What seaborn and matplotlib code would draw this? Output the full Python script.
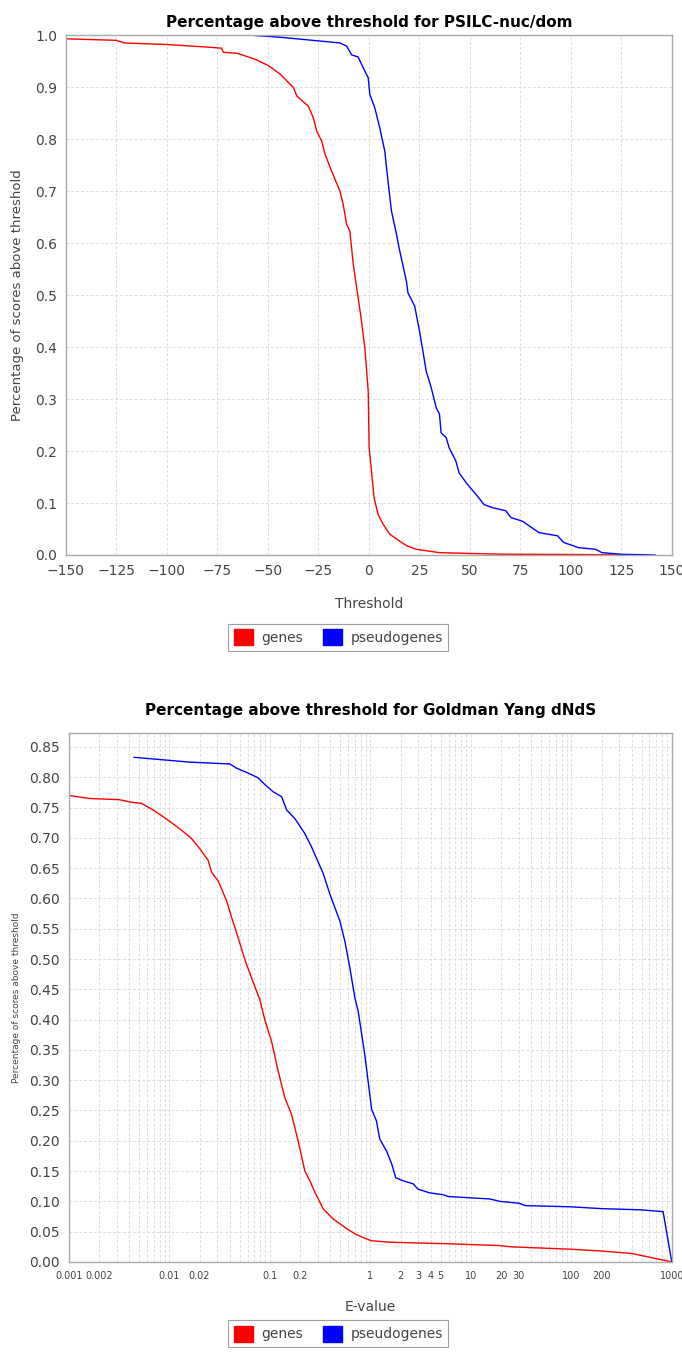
import numpy as np
import pandas as pd
import matplotlib
matplotlib.use("Agg")
from matplotlib import pyplot as plt
from matplotlib.patches import Patch
from matplotlib.ticker import FixedLocator, FixedFormatter
import seaborn as sns

# PSILC-nuc/dom (top panel)
psilc_genes_x = [-150, -125, -121, -100, -80, -73, -72, -65, -56, -50, -43.9, -37.3, -35.7,
                 -29.9, -27.5, -25.8, -23.3, -21.7, -18.4, -14.3, -12.7, -11, -9.4, -7.7, -5.3,
                 -4.1, -2, -0.3, 0.15, 1.3, 2.6, 4.6, 7.1, 10.4, 13.7, 18.6, 23.5, 35, 50, 66,
                 100, 130]
psilc_genes_y = [0.993, 0.99, 0.985, 0.982, 0.977, 0.975, 0.967, 0.965, 0.953, 0.942, 0.925,
                 0.899, 0.883, 0.863, 0.841, 0.815, 0.796, 0.771, 0.738, 0.70, 0.674, 0.636,
                 0.623, 0.559, 0.495, 0.463, 0.399, 0.315, 0.206, 0.162, 0.110, 0.078, 0.059,
                 0.040, 0.031, 0.018, 0.011, 0.0045, 0.003, 0.0015, 0.001, 0.0]

psilc_pseudo_x = [-59, -43.9, -14.3, -11, -8.5, -5.3, -2, -0.3, 0.5, 2.96, 5.4, 7.9, 9.5, 11.2,
                  13.7, 15.3, 18.6, 19.4, 22.7, 25.1, 26.8, 28.4, 30.9, 33.4, 35, 35.8, 38.3,
                  39.8, 43.1, 44.7, 48.8, 53, 57.1, 61.3, 67.9, 70.4, 76.1, 84.3, 93.4, 96.6,
                  104, 112.3, 115.5, 125.4, 141.9]
psilc_pseudo_y = [1.0, 0.996, 0.985, 0.979, 0.962, 0.958, 0.931, 0.918, 0.886, 0.86, 0.822,
                  0.777, 0.719, 0.662, 0.617, 0.585, 0.527, 0.504, 0.479, 0.431, 0.392, 0.354,
                  0.322, 0.283, 0.271, 0.235, 0.226, 0.206, 0.181, 0.158, 0.136, 0.117, 0.097,
                  0.091, 0.085, 0.072, 0.065, 0.043, 0.037, 0.024, 0.014, 0.011, 0.0045,
                  0.0013, 0.0]

# Goldman Yang dNdS (bottom panel)
gy_genes_x = [0.001, 0.0016, 0.0032, 0.00409, 0.00528, 0.0069, 0.00938, 0.0127, 0.0166,
              0.0201, 0.0243, 0.0263, 0.0306, 0.0371, 0.0416, 0.0484, 0.0564, 0.0657, 0.0795,
              0.089, 0.104, 0.121, 0.141, 0.164, 0.191, 0.223, 0.25, 0.281, 0.34, 0.427, 0.58,
              0.729, 0.916, 1.03, 1.56, 6, 19.5, 25, 50, 100, 200, 400, 1000]
gy_genes_y = [0.77, 0.765, 0.763, 0.759, 0.757, 0.746, 0.731, 0.715, 0.699, 0.682, 0.663,
              0.643, 0.629, 0.596, 0.569, 0.535, 0.499, 0.469, 0.433, 0.40, 0.364, 0.315,
              0.271, 0.244, 0.20, 0.15, 0.134, 0.115, 0.0875, 0.071, 0.055, 0.045, 0.038,
              0.035, 0.0326, 0.03, 0.027, 0.025, 0.023, 0.021, 0.018, 0.014, 0.0]

gy_pseudo_x = [0.00443, 0.016, 0.040, 0.0466, 0.0608, 0.0765, 0.0892, 0.108, 0.131, 0.147,
               0.177, 0.223, 0.26, 0.292, 0.34, 0.396, 0.497, 0.557, 0.625, 0.702, 0.757,
               0.881, 0.951, 1.03, 1.15, 1.24, 1.45, 1.63, 1.79, 2.12, 2.67, 2.99, 3.91, 5.3,
               5.95, 15.5, 19.5, 30, 35, 100, 200, 500, 820, 1000]
gy_pseudo_y = [0.833, 0.825, 0.822, 0.815, 0.807, 0.799, 0.788, 0.776, 0.768, 0.746, 0.732,
               0.707, 0.685, 0.666, 0.641, 0.607, 0.563, 0.53, 0.486, 0.436, 0.414, 0.342,
               0.298, 0.252, 0.233, 0.203, 0.183, 0.162, 0.139, 0.134, 0.129, 0.120, 0.114,
               0.111, 0.108, 0.104, 0.100, 0.097, 0.093, 0.091, 0.088, 0.086, 0.083, 0.0]

ev_ticks = [0.001, 0.002, 0.01, 0.02, 0.1, 0.2, 1, 2, 3, 4, 5, 10, 20, 30, 100, 200, 1000]
ev_labels = ["0.001", "0.002", "0.01", "0.02", "0.1", "0.2", "1", "2", "3", "4", "5",
             "10", "20", "30", "100", "200", "1000"]

sns.set_theme(style="white")
plt.rcParams['font.family'] = ['DejaVu Sans']

grey = "#444444"
spine_c = "#aaaaaa"
grid_c = "#dddddd"
palette = {"genes": "#ff0000", "pseudogenes": "#0000ff"}

fig = plt.figure(figsize=(6.82, 13.52), dpi=100)
ax1 = fig.add_axes([0.0968, 0.5895, 0.888, 0.3845])
ax2 = fig.add_axes([0.101, 0.0666, 0.884, 0.3912])


def style_axes(ax):
    for s in ax.spines.values():
        s.set_color(spine_c)
        s.set_linewidth(1)
    ax.tick_params(axis="both", which="both", colors=grey, direction="out",
                   length=3, width=0.8, color=spine_c)
    ax.set_facecolor("white")


def make_legend(y):
    handles = [Patch(facecolor="#ff0000", edgecolor="#ff0000", label="genes"),
               Patch(facecolor="#0000ff", edgecolor="#0000ff", label="pseudogenes")]
    leg = fig.legend(handles=handles, loc="center", bbox_to_anchor=(0.496, y), ncol=2,
                     frameon=True, fancybox=False, edgecolor="#888888", fontsize=10,
                     handlelength=1.4, handleheight=1.4, handletextpad=0.6,
                     columnspacing=1.4, borderpad=0.4)
    leg.get_frame().set_linewidth(0.8)
    for t in leg.get_texts():
        t.set_color(grey)


# top panel
top = pd.concat([
    pd.DataFrame({"x": psilc_genes_x, "y": psilc_genes_y, "set": "genes"}),
    pd.DataFrame({"x": psilc_pseudo_x, "y": psilc_pseudo_y, "set": "pseudogenes"}),
])
sns.lineplot(data=top, x="x", y="y", hue="set", palette=palette,
             sort=False, estimator=None, linewidth=1, legend=False, ax=ax1)
ax1.set_xlim(-150, 150)
ax1.set_ylim(0, 1.0)
ax1.set_xticks(np.arange(-150, 151, 25))
ax1.set_xticklabels([str(v).replace("-", "\u2212") for v in range(-150, 151, 25)])
ax1.set_yticks(np.arange(0, 1.01, 0.1))
ax1.set_yticklabels([f"{v:.1f}" for v in np.arange(0, 1.01, 0.1)])
ax1.grid(True, color=grid_c, linestyle=(0, (3, 2)), linewidth=0.7)
style_axes(ax1)
ax1.tick_params(labelsize=10)
ax1.set_title("Percentage above threshold for PSILC-nuc/dom", fontsize=11, fontweight="bold",
              color="black", pad=6)
ax1.set_xlabel("Threshold", fontsize=10, color=grey, labelpad=14)
ax1.set_ylabel("Percentage of scores above threshold", fontsize=9.5, color=grey, labelpad=8)
make_legend(0.5285)

# bottom panel
bot = pd.concat([
    pd.DataFrame({"x": gy_genes_x, "y": gy_genes_y, "set": "genes"}),
    pd.DataFrame({"x": gy_pseudo_x, "y": gy_pseudo_y, "set": "pseudogenes"}),
])
sns.lineplot(data=bot, x="x", y="y", hue="set", palette=palette,
             sort=False, estimator=None, linewidth=1, legend=False, ax=ax2)
ax2.set_xscale("log")
ax2.set_xlim(0.001, 1000)
ax2.set_ylim(0, 0.873)
ax2.xaxis.set_major_locator(FixedLocator(ev_ticks))
ax2.xaxis.set_major_formatter(FixedFormatter(ev_labels))
minors = [m * 10.0 ** e for e in range(-3, 3) for m in range(1, 10)]
ax2.xaxis.set_minor_locator(FixedLocator(minors))
ax2.xaxis.set_minor_formatter(FixedFormatter([""] * len(minors)))
ax2.set_yticks(np.arange(0, 0.851, 0.05))
ax2.set_yticklabels([f"{v:.2f}" for v in np.arange(0, 0.851, 0.05)])
ax2.grid(True, which="both", color=grid_c, linestyle=(0, (3, 2)), linewidth=0.7)
style_axes(ax2)
ax2.tick_params(axis="x", which="minor", length=0)
ax2.tick_params(axis="x", labelsize=7)
ax2.tick_params(axis="y", labelsize=10)
ax2.set_title("Percentage above threshold for Goldman Yang dNdS", fontsize=11, fontweight="bold",
              color="black", pad=13)
ax2.set_xlabel("E-value", fontsize=10, color=grey, labelpad=14)
ax2.set_ylabel("Percentage of scores above threshold", fontsize=6.5, color=grey, labelpad=6)
make_legend(0.0135)

fig.savefig("out.png", dpi=100, facecolor="white")
